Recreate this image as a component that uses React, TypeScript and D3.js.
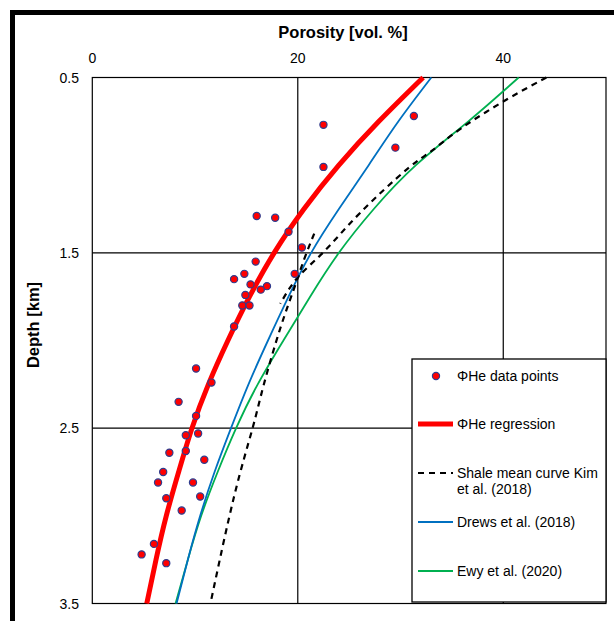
import React, { useEffect, useRef } from 'react'
import * as d3 from 'd3'

// data points (porosity %, depth km)
const pointPorosity = [22.5, 22.5, 31.3, 29.5, 16.0, 17.8, 19.1, 20.4, 15.9, 14.8, 13.8, 19.7, 15.4, 17.0, 16.4, 14.9, 14.6, 15.3, 13.8,
  10.1, 11.6, 8.4, 10.1, 9.1, 10.3, 7.5, 9.1, 10.9, 6.9, 6.4, 9.8, 7.2, 10.5, 8.7, 6.0, 4.8, 7.2]
const pointDepth = [0.77, 1.01, 0.72, 0.9, 1.29, 1.3, 1.38, 1.47, 1.55, 1.62, 1.65, 1.62, 1.68, 1.69, 1.71, 1.74, 1.8, 1.8, 1.92,
  2.16, 2.24, 2.35, 2.43, 2.54, 2.53, 2.64, 2.63, 2.68, 2.75, 2.81, 2.81, 2.9, 2.89, 2.97, 3.16, 3.22, 3.27]

const curveDepth = [0.5, 0.75, 1.0, 1.25, 1.5, 1.75, 2.0, 2.25, 2.5, 2.75, 3.0, 3.25, 3.5]
const regression = [32.2, 27.9, 24.0, 20.6, 17.7, 15.3, 13.2, 11.3, 9.7, 8.4, 7.2, 6.2, 5.3]
const drews = [33.0, 29.8, 26.9, 24.0, 21.3, 19.1, 17.1, 15.2, 13.5, 11.9, 10.5, 9.3, 8.2]
const ewy = [41.5, 36.6, 31.5, 27.4, 24.0, 21.2, 18.6, 16.1, 14.0, 12.2, 10.6, 9.3, 8.1]

// Kim et al. shale curve, drawn as two dashed pieces
const kimUpperDepth = [0.5, 0.62, 0.79, 0.92, 1.02, 1.27, 1.49, 1.64, 1.79]
const kimUpper = [44.2, 40.5, 35.9, 33.0, 30.7, 26.1, 22.6, 20.0, 18.3]
const kimLowerDepth = [1.39, 1.54, 1.71, 1.93, 2.25, 2.5, 2.89, 3.5]
const kimLower = [21.6, 20.6, 19.6, 18.3, 16.7, 15.6, 13.8, 11.5]

const xTicks = [0, 20, 40]
const yTicks = [0.5, 1.5, 2.5, 3.5]

export default function App() {
  const ref = useRef<SVGSVGElement>(null)

  useEffect(() => {
    const svg = d3.select(ref.current)
    svg.selectAll('*').remove()
    const font = 'Liberation Sans, Arial, sans-serif'

    const x = d3.scaleLinear().domain([0, 50]).range([92.3, 606])
    const y = d3.scaleLinear().domain([0.5, 3.5]).range([77.5, 603.5])

    // outer frame (cut off at right and bottom)
    svg.append('rect').attr('x', 12.5).attr('y', 12.5).attr('width', 700).attr('height', 700)
      .attr('fill', 'white').attr('stroke', 'black').attr('stroke-width', 5)

    // grid lines
    const g = svg.append('g')
    g.selectAll('line.vx').data([20, 40]).enter().append('line')
      .attr('x1', d => x(d)).attr('x2', d => x(d)).attr('y1', y(0.5)).attr('y2', y(3.5))
      .attr('stroke', 'black').attr('stroke-width', 1.2)
    g.selectAll('line.hy').data([1.5, 2.5]).enter().append('line')
      .attr('x1', x(0)).attr('x2', x(50)).attr('y1', d => y(d)).attr('y2', d => y(d))
      .attr('stroke', 'black').attr('stroke-width', 1.2)

    svg.append('rect').attr('x', x(0)).attr('y', y(0.5)).attr('width', x(50) - x(0)).attr('height', y(3.5) - y(0.5))
      .attr('fill', 'none').attr('stroke', 'black').attr('stroke-width', 1.2)

    // tick labels
    svg.selectAll('text.xt').data(xTicks).enter().append('text')
      .attr('x', d => x(d)).attr('y', 63).attr('text-anchor', 'middle')
      .style('font-family', font).style('font-size', '14px').text(d => d)
    svg.selectAll('text.yt').data(yTicks).enter().append('text')
      .attr('x', 79).attr('y', d => y(d) + 5).attr('text-anchor', 'end')
      .style('font-family', font).style('font-size', '14px').text(d => d.toFixed(1))

    svg.append('text').attr('x', 343).attr('y', 38).attr('text-anchor', 'middle')
      .style('font-family', font).style('font-size', '16.5px').style('font-weight', 'bold')
      .text('Porosity [vol. %]')
    svg.append('text').attr('transform', 'translate(39, 325) rotate(-90)').attr('text-anchor', 'middle')
      .style('font-family', font).style('font-size', '16.5px').style('font-weight', 'bold')
      .text('Depth [km]')

    const line = d3.line<[number, number]>().x(d => x(d[0])).y(d => y(d[1])).curve(d3.curveNatural)
    const zip = (v: number[], dep: number[]) => v.map((p, i) => [p, dep[i]] as [number, number])

    svg.append('path').attr('d', line(zip(ewy, curveDepth))).attr('fill', 'none')
      .attr('stroke', '#00b050').attr('stroke-width', 1.8)
    svg.append('path').attr('d', line(zip(drews, curveDepth))).attr('fill', 'none')
      .attr('stroke', '#0070c0').attr('stroke-width', 1.8)
    svg.append('path').attr('d', line(zip(kimUpper, kimUpperDepth))).attr('fill', 'none')
      .attr('stroke', 'black').attr('stroke-width', 2.2).attr('stroke-dasharray', '6,5')
    svg.append('path').attr('d', line(zip(kimLower, kimLowerDepth))).attr('fill', 'none')
      .attr('stroke', 'black').attr('stroke-width', 2.2).attr('stroke-dasharray', '6,5')
    svg.append('path').attr('d', line(zip(regression, curveDepth))).attr('fill', 'none')
      .attr('stroke', '#ff0000').attr('stroke-width', 5)

    svg.selectAll('circle.pt').data(zip(pointPorosity, pointDepth)).enter().append('circle')
      .attr('cx', d => x(d[0])).attr('cy', d => y(d[1])).attr('r', 3.6)
      .attr('fill', '#ff0000').attr('stroke', '#2e3d8f').attr('stroke-width', 1.2)

    // legend
    const lg = svg.append('g')
    lg.append('rect').attr('x', 412).attr('y', 359).attr('width', 194).attr('height', 243)
      .attr('fill', 'white').attr('stroke', 'black').attr('stroke-width', 1.3)
    lg.append('circle').attr('cx', 436).attr('cy', 376).attr('r', 3.6)
      .attr('fill', '#ff0000').attr('stroke', '#2e3d8f').attr('stroke-width', 1.2)
    const items = [
      { y: 424, color: '#ff0000', w: 5, dash: null, label: ['ΦHe regression'] },
      { y: 473, color: 'black', w: 2.2, dash: '6,5', label: ['Shale mean curve Kim', 'et al. (2018)'] },
      { y: 522, color: '#0070c0', w: 1.8, dash: null, label: ['Drews et al. (2018)'] },
      { y: 571, color: '#00b050', w: 1.8, dash: null, label: ['Ewy et al. (2020)'] },
    ]
    const legendText = (ty: number, lines: string[]) => {
      const t = lg.append('text').style('font-family', font).style('font-size', '14px')
      lines.forEach((s, i) => t.append('tspan').attr('x', 457).attr('y', ty + 5 + i * 16).text(s))
    }
    legendText(376, ['ΦHe data points'])
    items.forEach(it => {
      lg.append('line').attr('x1', 418).attr('x2', 453).attr('y1', it.y).attr('y2', it.y)
        .attr('stroke', it.color).attr('stroke-width', it.w).attr('stroke-dasharray', it.dash)
      legendText(it.y, it.label)
    })
  }, [])

  return (
    <svg ref={ref} width={614} height={621} style={{ position: 'absolute', left: 0, top: 0, background: 'white' }}></svg>
  )
}
